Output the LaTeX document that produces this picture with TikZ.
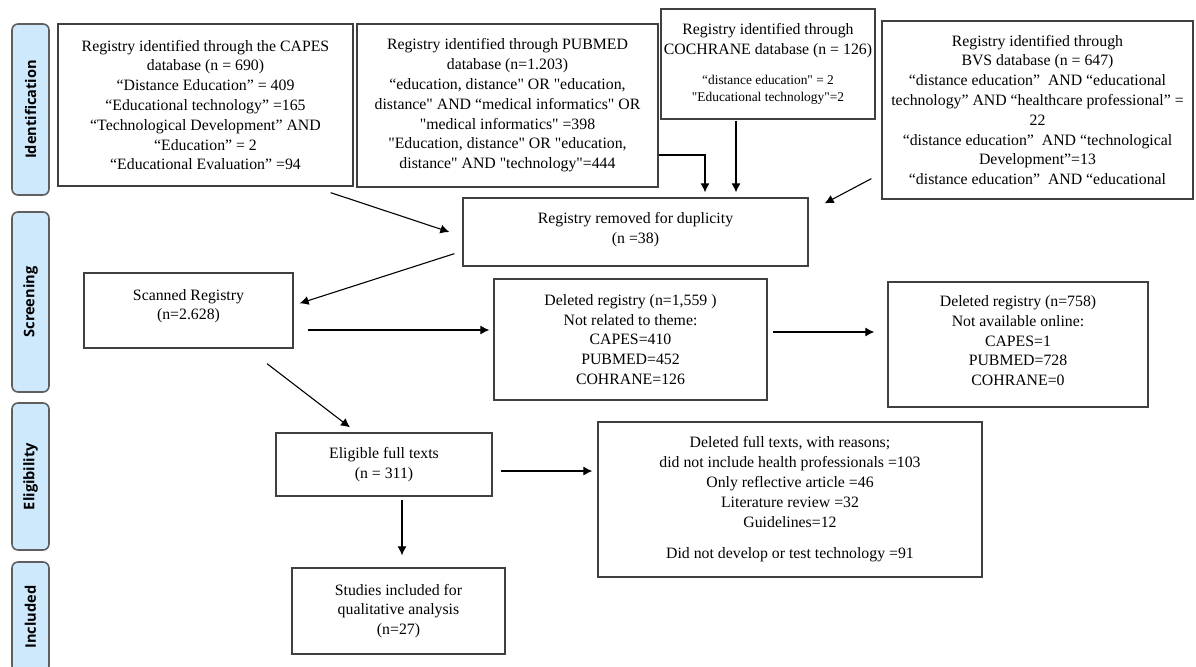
\documentclass[tikz,border=0pt]{standalone}
\usepackage{fontspec}
\setmainfont{Liberation Serif}[Ligatures=TeXOff]
\newfontfamily\sidefont{Open Sans}
\usetikzlibrary{arrows.meta,calc}

\definecolor{boxgray}{HTML}{404040}
\definecolor{sidefill}{HTML}{CDE9FB}
\definecolor{sidegray}{HTML}{5F5F5F}
\tikzset{
  box/.style={draw=boxgray,line width=0.65pt,align=center,inner sep=0pt,font=\fontsize{7.9}{9.9}\selectfont},
  side/.style={draw=sidegray,fill=sidefill,line width=0.8pt,rounded corners=3pt,rotate=90,minimum height=18.5pt,inner sep=0pt,font=\sidefont\bfseries\fontsize{7.3}{8}\selectfont},
  arr/.style={-{Latex[length=4.5pt,width=4.5pt]},line width=0.55pt,black}
}

\begin{document}
\begin{tikzpicture}[x=0.5pt,y=-0.5pt]
\useasboundingbox (0,0) rectangle (1196,666);

\node[side,minimum width=85.5pt] (ident) at (30.5,109.5) {Identification};
\node[side,minimum width=90pt] (screen) at (30.5,302) {Screening};
\node[side,minimum width=73.5pt] (elig) at (30.5,476.5) {Eligibility};
\node[side,minimum width=55pt] (incl) at (30.5,617) {Included};

\node[box,minimum width=147.5pt,minimum height=81pt] (capes) at (205.5,105) {Registry identified through the CAPES\\database (n = 690)\\“Distance Education” = 409\\“Educational technology” =165\\“Technological Development” AND\\“Education” = 2\\“Educational Evaluation” =94};
\node[box,minimum width=150.5pt,minimum height=81.5pt] (pubmed) at (507.5,105.5) {Registry identified through PUBMED\\database (n=1.203)\\“education, distance" OR "education,\\distance" AND “medical informatics" OR\\"medical informatics" =398\\"Education, distance" OR "education,\\distance" AND "technology"=444};
\node[box,minimum width=107pt,minimum height=55pt] (cochrane) at (768,64) {Registry identified through\\COCHRANE database (n = 126)\\[5pt]{\fontsize{6.7}{7.5}\selectfont “distance education" = 2}\\[-1pt]{\fontsize{6.7}{7.5}\selectfont "Educational technology"=2}};
\node[box,minimum width=155.5pt,minimum height=89pt] (bvs) at (1037.5,110) {Registry identified through\\BVS database (n = 647)\\“distance education”~ AND “educational\\technology” AND “healthcare professional” =\\22\\“distance education”~ AND “technological\\Development”=13\\“distance education”~ AND “educational};

\node[box,minimum width=172.5pt,minimum height=34pt] (dup) at (635.5,232) {Registry removed for duplicity\\(n =38)\\[-6pt]};
\node[box,minimum width=104.5pt,minimum height=37.5pt] (scanned) at (188.5,310.5) {Scanned Registry\\(n=2.628)\\[-4pt]};
\node[box,minimum width=136.5pt,minimum height=60.5pt] (del1) at (630.5,339.5) {Deleted registry (n=1,559 )\\Not related to theme:\\CAPES=410\\PUBMED=452\\COHRANE=126};
\node[box,minimum width=130pt,minimum height=62.5pt] (del2) at (1018,344.5) {Deleted registry (n=758)\\Not available online:\\CAPES=1\\PUBMED=728\\COHRANE=0\\[-6pt]};
\node[box,minimum width=108pt,minimum height=31.5pt] (eligible) at (384,464.5) {Eligible full texts\\(n = 311)};
\node[box,minimum width=192pt,minimum height=77.5pt] (delft) at (790,499.5) {Deleted full texts, with reasons;\\did not include health professionals =103\\Only reflective article =46\\Literature review =32\\Guidelines=12\\[6pt]Did not develop or test technology =91};
\node[box,minimum width=106.5pt,minimum height=43pt] (studies) at (398.5,611) {Studies included for\\qualitative analysis\\(n=27)};

\draw[arr] ($(capes.south east)+(-23,6)$) -- ($(dup.west)+(-13,0)$);
\draw[arr] ($(pubmed.east)+(0,49.5)$) -| ($(dup.north)+(69.5,-5)$);
\draw[arr] ($(cochrane.south)+(-32,1)$) -- ($(dup.north)+(100.5,-5)$);
\draw[arr] ($(bvs.south west)+(-10,-21)$) -- ($(dup.north east)+(16,6)$);
\draw[arr] ($(dup.south west)+(-8,-13)$) -- ($(scanned.north east)+(6,31)$);
\draw[arr] ($(scanned.east)+(14,19.5)$) -- ($(del1.west)+(-4,-9.5)$);
\draw[arr] ($(del1.east)+(5,-7.5)$) -- ($(del2.west)+(-13,-12.5)$);
\draw[arr] ($(scanned.south)+(78.5,15)$) -- ($(eligible.north)+(-34,-5)$);
\draw[arr] ($(eligible.east)+(8,6.5)$) -- ($(delft.west)+(-5,-28.5)$);
\draw[arr] ($(eligible.south)+(18,3)$) -- ($(studies.north)+(3.5,-12)$);
\end{tikzpicture}
\end{document}
